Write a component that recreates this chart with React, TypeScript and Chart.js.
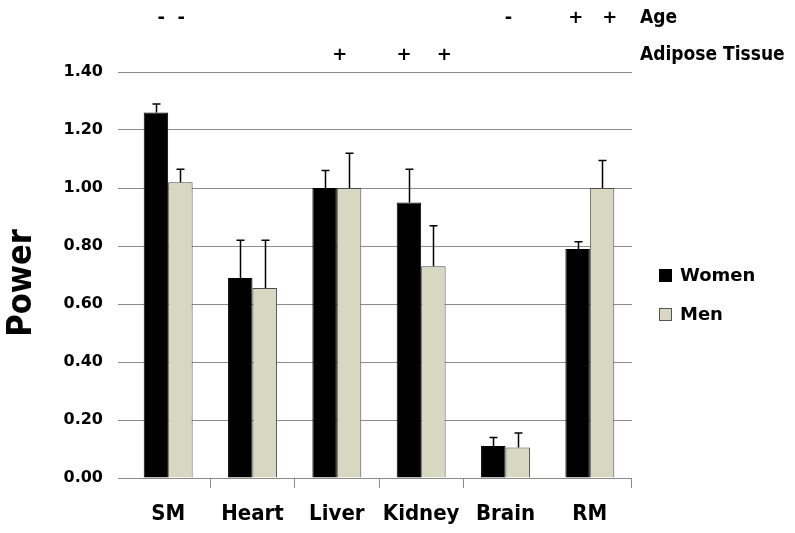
import React, { useEffect, useRef } from "react";
import { Chart, registerables } from "chart.js";

Chart.register(...registerables);

const categories = ["SM", "Heart", "Liver", "Kidney", "Brain", "RM"];
const women = [1.26, 0.69, 1.0, 0.95, 0.11, 0.79];
const womenErr = [0.03, 0.13, 0.06, 0.115, 0.03, 0.025];
const men = [1.02, 0.655, 1.0, 0.73, 0.105, 1.0];
const menErr = [0.045, 0.165, 0.12, 0.14, 0.05, 0.095];
const ageMarks = ["-  -", "", "", "", "-", "+   +"];
const adiposeMarks = ["", "", "+", "+    +", "", ""];
const seriesNames = ["Women", "Men"];
const rowLabels = ["Age", "Adipose Tissue"];
const yTitle = "Power";

const FONT = "'DejaVu Sans', sans-serif";
const COND = "'DejaVu Sans Condensed', 'DejaVu Sans', sans-serif";
const WOMEN_COLOR = "#000000";
const MEN_COLOR = "#d8d8c2";
const GRID = "#8c8c8c";

const errorBarPlugin = {
  id: "errorBars",
  afterDatasetsDraw(chart: any) {
    const { ctx } = chart;
    const yScale = chart.scales.y;
    const errs = [womenErr, menErr];
    const vals = [women, men];
    ctx.save();
    ctx.strokeStyle = "#000";
    ctx.lineWidth = 1.5;
    chart.data.datasets.forEach((_: any, di: number) => {
      const meta = chart.getDatasetMeta(di);
      meta.data.forEach((bar: any, i: number) => {
        const top = yScale.getPixelForValue(vals[di][i] + errs[di][i]);
        const x = Math.round(bar.x) + 0.5;
        ctx.beginPath();
        ctx.moveTo(x, bar.y);
        ctx.lineTo(x, top);
        ctx.moveTo(x - 4, top);
        ctx.lineTo(x + 4, top);
        ctx.stroke();
      });
    });
    ctx.restore();
  },
};

const annotationPlugin = {
  id: "annotations",
  afterDraw(chart: any) {
    const { ctx, chartArea } = chart;
    const xScale = chart.scales.x;
    ctx.save();
    ctx.fillStyle = "#000";
    ctx.textBaseline = "middle";
    // y axis title
    ctx.save();
    ctx.translate(22, (chartArea.top + chartArea.bottom) / 2 + 8);
    ctx.rotate(-Math.PI / 2);
    ctx.textAlign = "center";
    ctx.font = `bold 34px ${COND}`;
    ctx.fillText(yTitle, 0, 0);
    ctx.restore();
    // row labels
    ctx.textAlign = "left";
    ctx.font = `bold 19px ${COND}`;
    ctx.fillText(rowLabels[0], 640, 18);
    ctx.fillText(rowLabels[1], 640, 55);
    // marks
    ctx.textAlign = "center";
    ctx.font = `bold 18px ${FONT}`;
    categories.forEach((_, i) => {
      const x = xScale.getPixelForValue(i) + 3;
      if (ageMarks[i]) ctx.fillText(ageMarks[i], x, 18);
      if (adiposeMarks[i]) ctx.fillText(adiposeMarks[i], x, 55);
    });
    // legend
    const colors = [WOMEN_COLOR, MEN_COLOR];
    const borders = ["#000", "#555"];
    ctx.textAlign = "left";
    ctx.font = `bold 18px ${FONT}`;
    seriesNames.forEach((name, i) => {
      const cy = 275 + i * 39;
      ctx.fillStyle = colors[i];
      ctx.fillRect(659, cy - 6, 13, 13);
      ctx.strokeStyle = borders[i];
      ctx.lineWidth = 1;
      ctx.strokeRect(659.5, cy - 5.5, 12, 12);
      ctx.fillStyle = "#000";
      ctx.fillText(name, 680, cy + 1);
    });
    ctx.restore();
  },
};

export default function App() {
  const ref = useRef<HTMLCanvasElement>(null);
  useEffect(() => {
    if (!ref.current) return;
    const chart = new Chart(ref.current, {
      type: "bar",
      data: {
        labels: categories,
        datasets: [
          {
            label: seriesNames[0],
            data: women,
            backgroundColor: WOMEN_COLOR,
            borderColor: "#000",
            borderWidth: 1,
            categoryPercentage: 0.58,
            barPercentage: 1,
          },
          {
            label: seriesNames[1],
            data: men,
            backgroundColor: MEN_COLOR,
            borderColor: "#4a4a4a",
            borderWidth: 1,
            categoryPercentage: 0.58,
            barPercentage: 1,
          },
        ],
      },
      options: {
        responsive: false,
        animation: false,
        layout: { padding: { top: 72, right: 163, bottom: 0, left: 0 } },
        plugins: {
          legend: { display: false },
          tooltip: { enabled: false },
        },
        scales: {
          x: {
            afterFit: (s: any) => {
              s.height = 55;
            },
            border: { display: false },
            grid: {
              offset: true,
              drawOnChartArea: false,
              drawTicks: true,
              tickLength: 10,
              color: (c: any) => (c.index === 0 || c.index === 5 ? "rgba(0,0,0,0)" : GRID),
            },
            ticks: {
              color: "#000",
              padding: 13,
              font: { family: COND, size: 22, weight: "bold" },
            },
          },
          y: {
            min: 0,
            max: 1.4,
            afterFit: (s: any) => {
              s.width = 126;
            },
            border: { display: false },
            grid: { color: GRID, lineWidth: 1, drawTicks: true, tickLength: 8 },
            ticks: {
              stepSize: 0.2,
              color: "#000",
              padding: 15,
              font: { family: FONT, size: 16, weight: "bold" },
              callback: (v: any) => Number(v).toFixed(2),
            },
          },
        },
      },
      plugins: [errorBarPlugin, annotationPlugin],
    });
    return () => chart.destroy();
  }, []);
  return (
    <div style={{ position: "fixed", left: 0, top: 0, width: 795, height: 533, background: "#fff" }}>
      <canvas ref={ref} width={795} height={533} style={{ display: "block" }} />
    </div>
  );
}
